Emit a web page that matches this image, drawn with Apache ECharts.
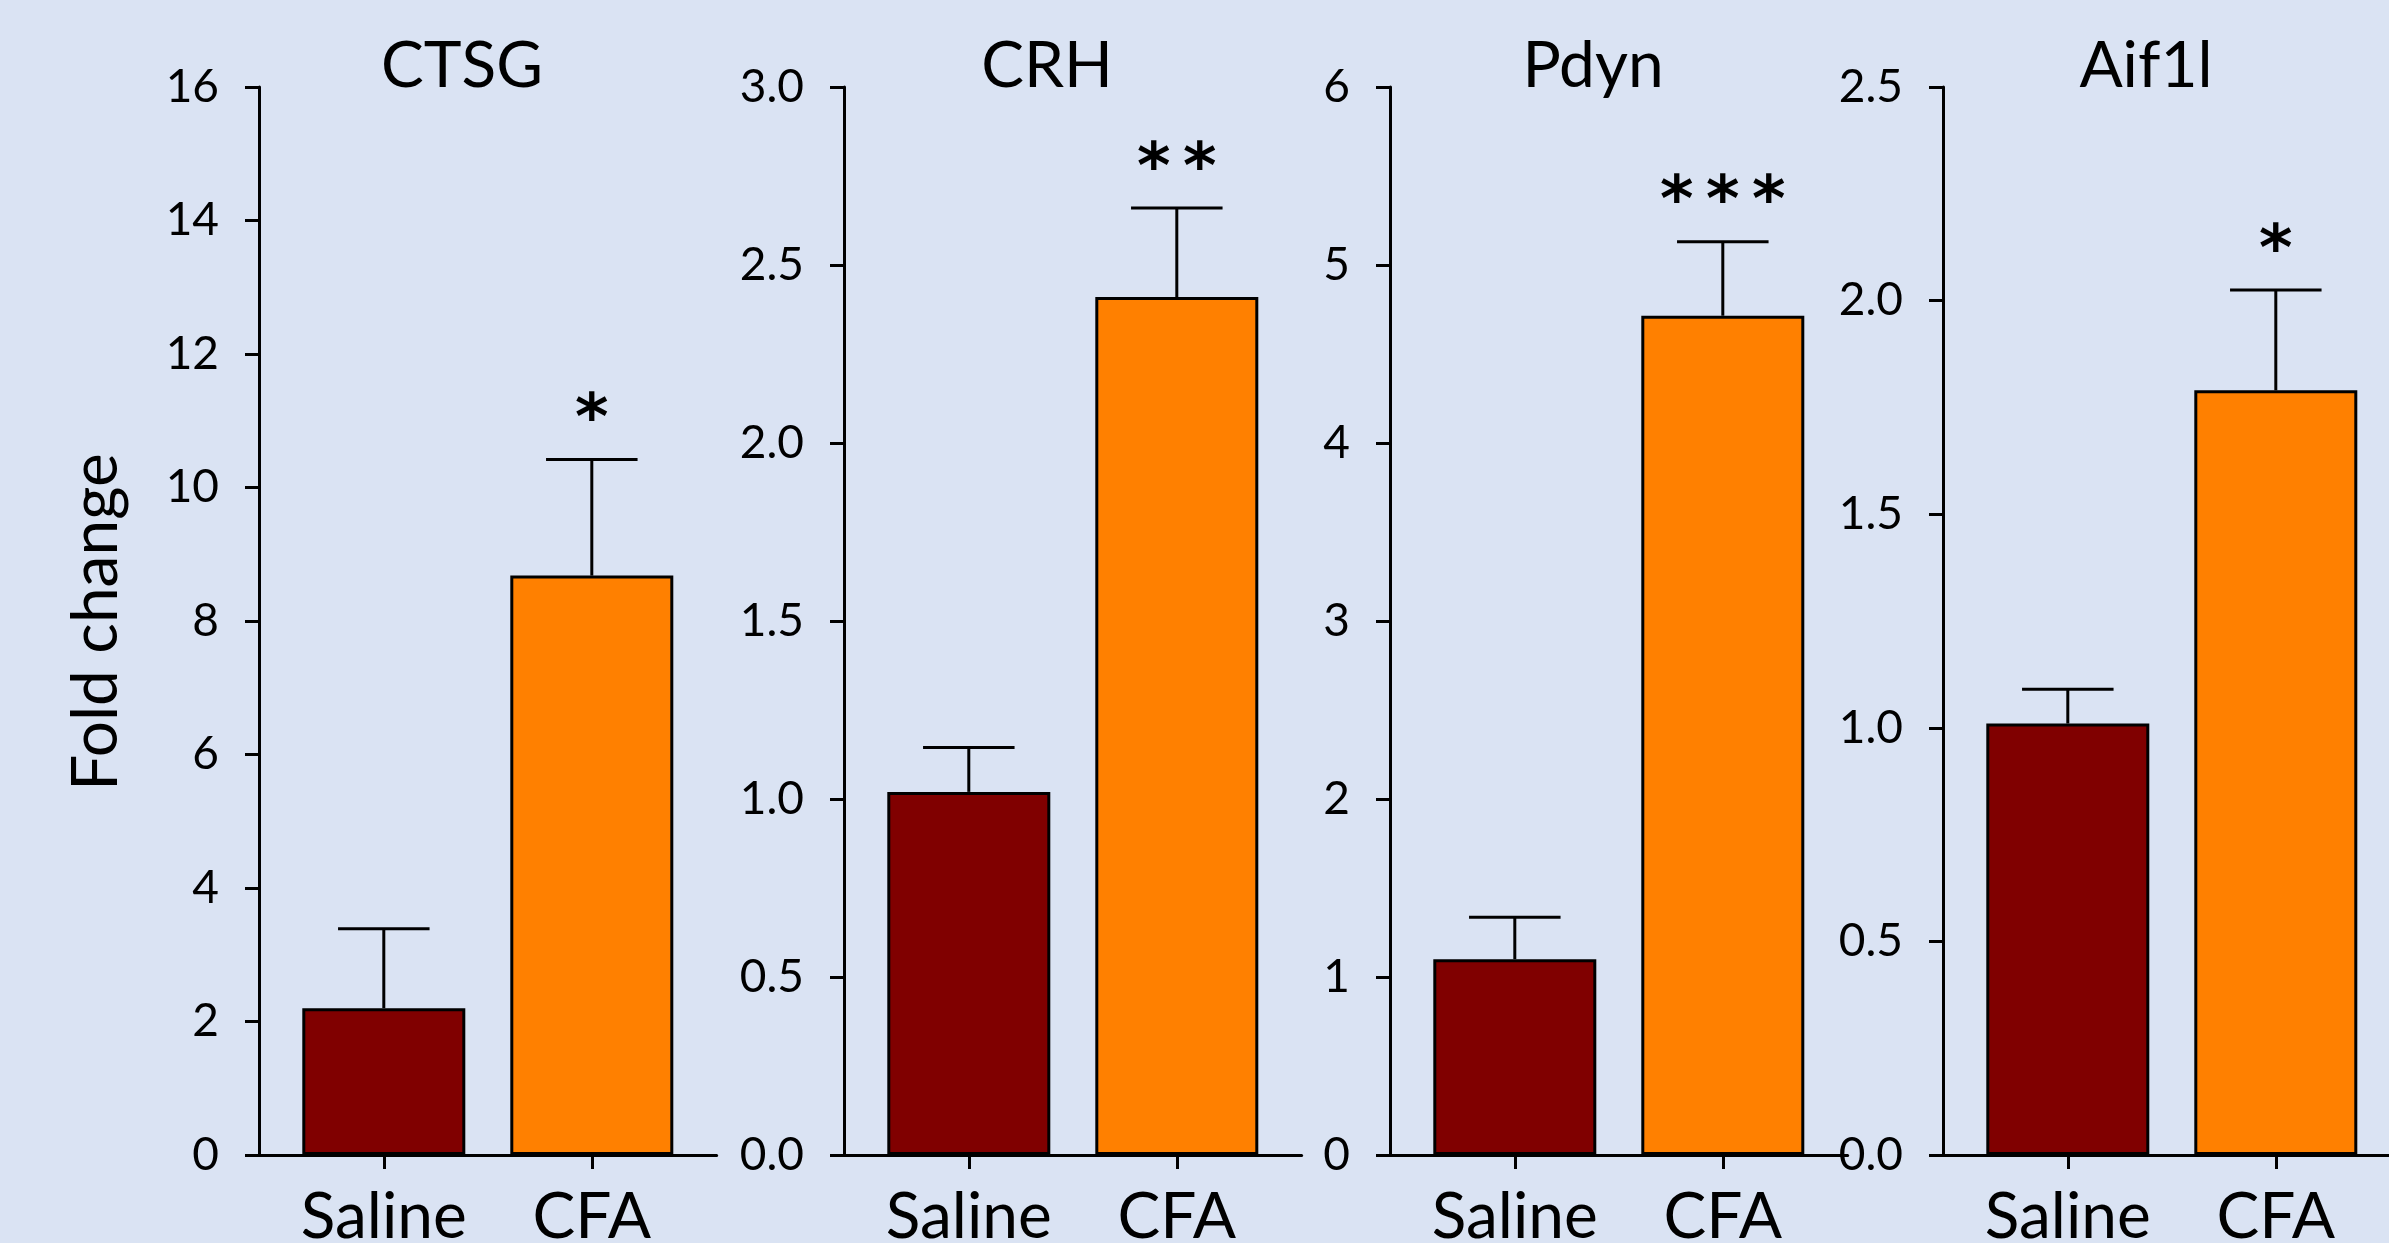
<!DOCTYPE html>
<html>
<head>
<meta charset="utf-8">
<script src="https://cdn.jsdelivr.net/npm/echarts@6/dist/echarts.min.js"></script>
<style>
  html, body { margin: 0; padding: 0; background: #DAE3F3; }
  #chart { width: 2389px; height: 1243px; }
</style>
</head>
<body>
<div id="chart"></div>
<script>
// ---- data ----
const categories = ['Saline', 'CFA'];
const genes = ['CTSG', 'CRH', 'Pdyn', 'Aif1l'];
const salineMean = [2.2, 1.02, 1.10, 1.01];
const salineUpper = [3.39, 1.145, 1.335, 1.09];
const cfaMean = [8.68, 2.41, 4.715, 1.79];
const cfaUpper = [10.42, 2.66, 5.13, 2.025];
const yMax = [16, 3.0, 6, 2.5];
const yStep = [2, 0.5, 1, 0.5];
const yDecimals = [0, 1, 0, 1];
const sigMarks = ['*', '**', '***', '*'];
const yAxisTitle = 'Fold change';

// ---- layout / style ----
const panelLeft = [259, 844, 1390, 1943];
const plotTop = 87, plotHeight = 1068, plotWidth = 457.6;
const FONT = 'Lato, "Open Sans", sans-serif';
const salineColor = '#800000';
const cfaColor = '#FF8000';

const chart = echarts.init(document.getElementById('chart'));

const grid = [], xAxis = [], yAxis = [], series = [], graphic = [];

genes.forEach((g, i) => {
  grid.push({
    left: panelLeft[i], top: plotTop, width: plotWidth, height: plotHeight,
    containLabel: false, outerBoundsMode: 'none'
  });
  xAxis.push({
    type: 'value', gridIndex: i, min: -0.6, max: 1.6,
    axisLine: { show: true, onZero: false, lineStyle: { color: '#000', width: 3 } },
    axisTick: { show: true, customValues: [0, 1], length: 14, lineStyle: { color: '#000', width: 3 } },
    axisLabel: {
      show: true, customValues: [0, 1], margin: 30,
      formatter: v => categories[Math.round(v)],
      color: '#000', fontFamily: FONT, fontSize: 64
    },
    splitLine: { show: false }
  });
  yAxis.push({
    type: 'value', gridIndex: i, min: 0, max: yMax[i], interval: yStep[i],
    axisLine: { show: true, onZero: false, lineStyle: { color: '#000', width: 3 } },
    axisTick: { show: true, length: 14, lineStyle: { color: '#000', width: 3 } },
    axisLabel: {
      margin: 40, color: '#000', fontFamily: FONT, fontSize: 46,
      formatter: v => v.toFixed(yDecimals[i])
    },
    splitLine: { show: false }
  });
  series.push({
    type: 'bar', xAxisIndex: i, yAxisIndex: i, barWidth: 163,
    data: [
      { value: [0, salineMean[i]], itemStyle: { color: salineColor } },
      { value: [1, cfaMean[i]], itemStyle: { color: cfaColor } }
    ],
    itemStyle: { borderColor: '#000', borderWidth: 3 },
    silent: true, animation: false
  });
  series.push({
    type: 'custom', xAxisIndex: i, yAxisIndex: i, z: 5,
    data: [[0, salineMean[i], salineUpper[i]], [1, cfaMean[i], cfaUpper[i]]],
    renderItem: (params, api) => {
      const x = api.value(0), m = api.value(1), u = api.value(2);
      const p0 = api.coord([x, m]);
      const p1 = api.coord([x, u]);
      const capHalf = api.size([0.22, 0])[0];
      const st = { stroke: '#000', lineWidth: 3 };
      const children = [
        { type: 'line', shape: { x1: p0[0], y1: p0[1], x2: p1[0], y2: p1[1] }, style: st },
        { type: 'line', shape: { x1: p1[0] - capHalf, y1: p1[1], x2: p1[0] + capHalf, y2: p1[1] }, style: st }
      ];
      if (params.dataIndex === 1) {
        const marks = sigMarks[i].split('');
        marks.forEach((c, k) => {
          children.push({
            type: 'text',
            x: p1[0] + (k - (marks.length - 1) / 2) * 46,
            y: p1[1] - 37,
            style: { text: c, fill: '#000', font: 'bold 64px "DejaVu Sans"', textAlign: 'center', textVerticalAlign: 'middle' }
          });
        });
      }
      return { type: 'group', children };
    },
    silent: true, animation: false
  });
  graphic.push({
    type: 'text', x: panelLeft[i] + 203, y: 66,
    style: { text: g, fill: '#000', font: '64px ' + FONT, textAlign: 'center', textVerticalAlign: 'middle' }
  });
});

graphic.push({
  type: 'text', x: 96, y: 622, rotation: Math.PI / 2,
  style: { text: yAxisTitle, fill: '#000', font: '64px ' + FONT, textAlign: 'center', textVerticalAlign: 'middle' }
});

chart.setOption({
  backgroundColor: '#DAE3F3',
  animation: false,
  grid, xAxis, yAxis, series, graphic
});
</script>
</body>
</html>
